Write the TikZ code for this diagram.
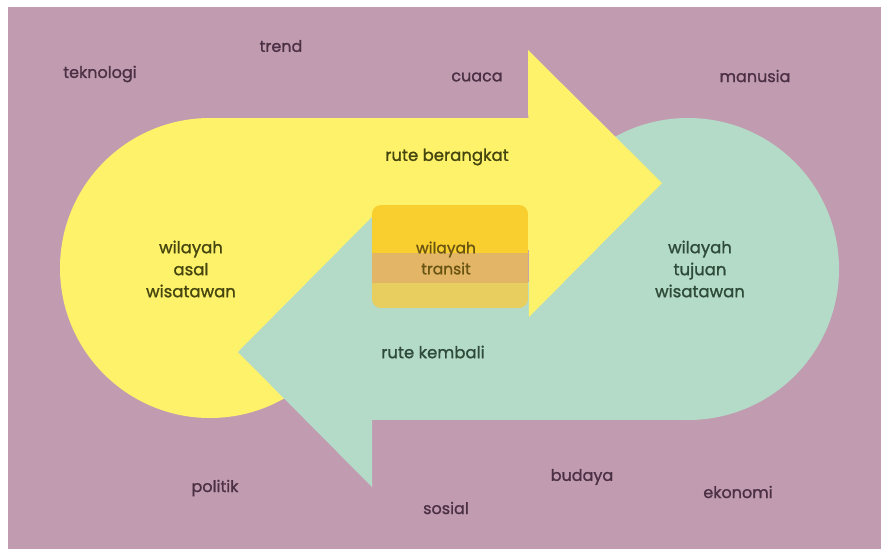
\documentclass[tikz,border=0pt]{standalone}
\usepackage{fontspec}
\setmainfont{Poppins}[FakeBold=1.2]
\definecolor{bgmauve}{HTML}{C19CB0}
\definecolor{ylw}{HTML}{FEF26A}
\definecolor{teal2}{HTML}{B4DBC8}
\definecolor{band1}{HTML}{F9CF30}
\definecolor{band2}{HTML}{E2B567}
\definecolor{band3}{HTML}{E8CE5E}
\definecolor{txtbg}{HTML}{4B2F45}
\definecolor{txty}{HTML}{45450F}
\definecolor{txtt}{HTML}{2E4A38}
\definecolor{txttr}{HTML}{6A5412}
\tikzset{
  lbl/.style={font=\fontsize{16}{20}\selectfont, text=txtbg, inner sep=0pt},
  ytext/.style={font=\fontsize{16.5}{22}\selectfont, text=txty, align=center, inner sep=0pt},
  ttext/.style={font=\fontsize{16.5}{22}\selectfont, text=txtt, align=center, inner sep=0pt},
  trtext/.style={font=\fontsize{15.5}{21}\selectfont, text=txttr, align=center, inner sep=0pt}
}
\begin{document}
\begin{tikzpicture}[x=1pt,y=-1pt]
\useasboundingbox (0,0) rectangle (881,550);
\fill[white] (0,0) rectangle (881,550);
\fill[bgmauve] (8,7) rectangle (881,549);
% yellow origin region and shaft
\fill[ylw] (210,268) circle (150);
\fill[ylw] (210,118) rectangle (530,250);
% teal destination region and shaft
\fill[teal2] (688,269) circle (151);
\fill[teal2] (370,282) rectangle (688,420);
% arrow heads
\fill[ylw] (528,50) -- (662,183) -- (529,317) -- cycle;
\fill[teal2] (238,352) -- (372,217) -- (372,487) -- cycle;
% transit box
\begin{scope}
\clip[rounded corners=9pt] (372,205) rectangle (528,308);
\fill[band1] (372,205) rectangle (528,253);
\fill[band2] (372,253) rectangle (528,283);
\fill[band3] (372,283) rectangle (528,308);
\end{scope}
% texts
\node[lbl] (teknologi) at (100,74) {teknologi};
\node[lbl] (trend) at (281,46) {trend};
\node[lbl] (cuaca) at (477,77) {cuaca};
\node[lbl] (manusia) at (755,76) {manusia};
\node[lbl] (politik) at (215,488) {politik};
\node[lbl] (sosial) at (446,508) {sosial};
\node[lbl] (budaya) at (582,477) {budaya};
\node[lbl] (ekonomi) at (738,492) {ekonomi};
\node[ytext] (berangkat) at (447,157) {rute berangkat};
\node[ytext] (asal) at (191,269) {wilayah\\asal\\wisatawan};
\node[trtext] (transit) at (446,258) {wilayah\\transit};
\node[ttext] (tujuan) at (700,269) {wilayah\\tujuan\\wisatawan};
\node[ttext] (kembali) at (433,352) {rute kembali};
\end{tikzpicture}
\end{document}
